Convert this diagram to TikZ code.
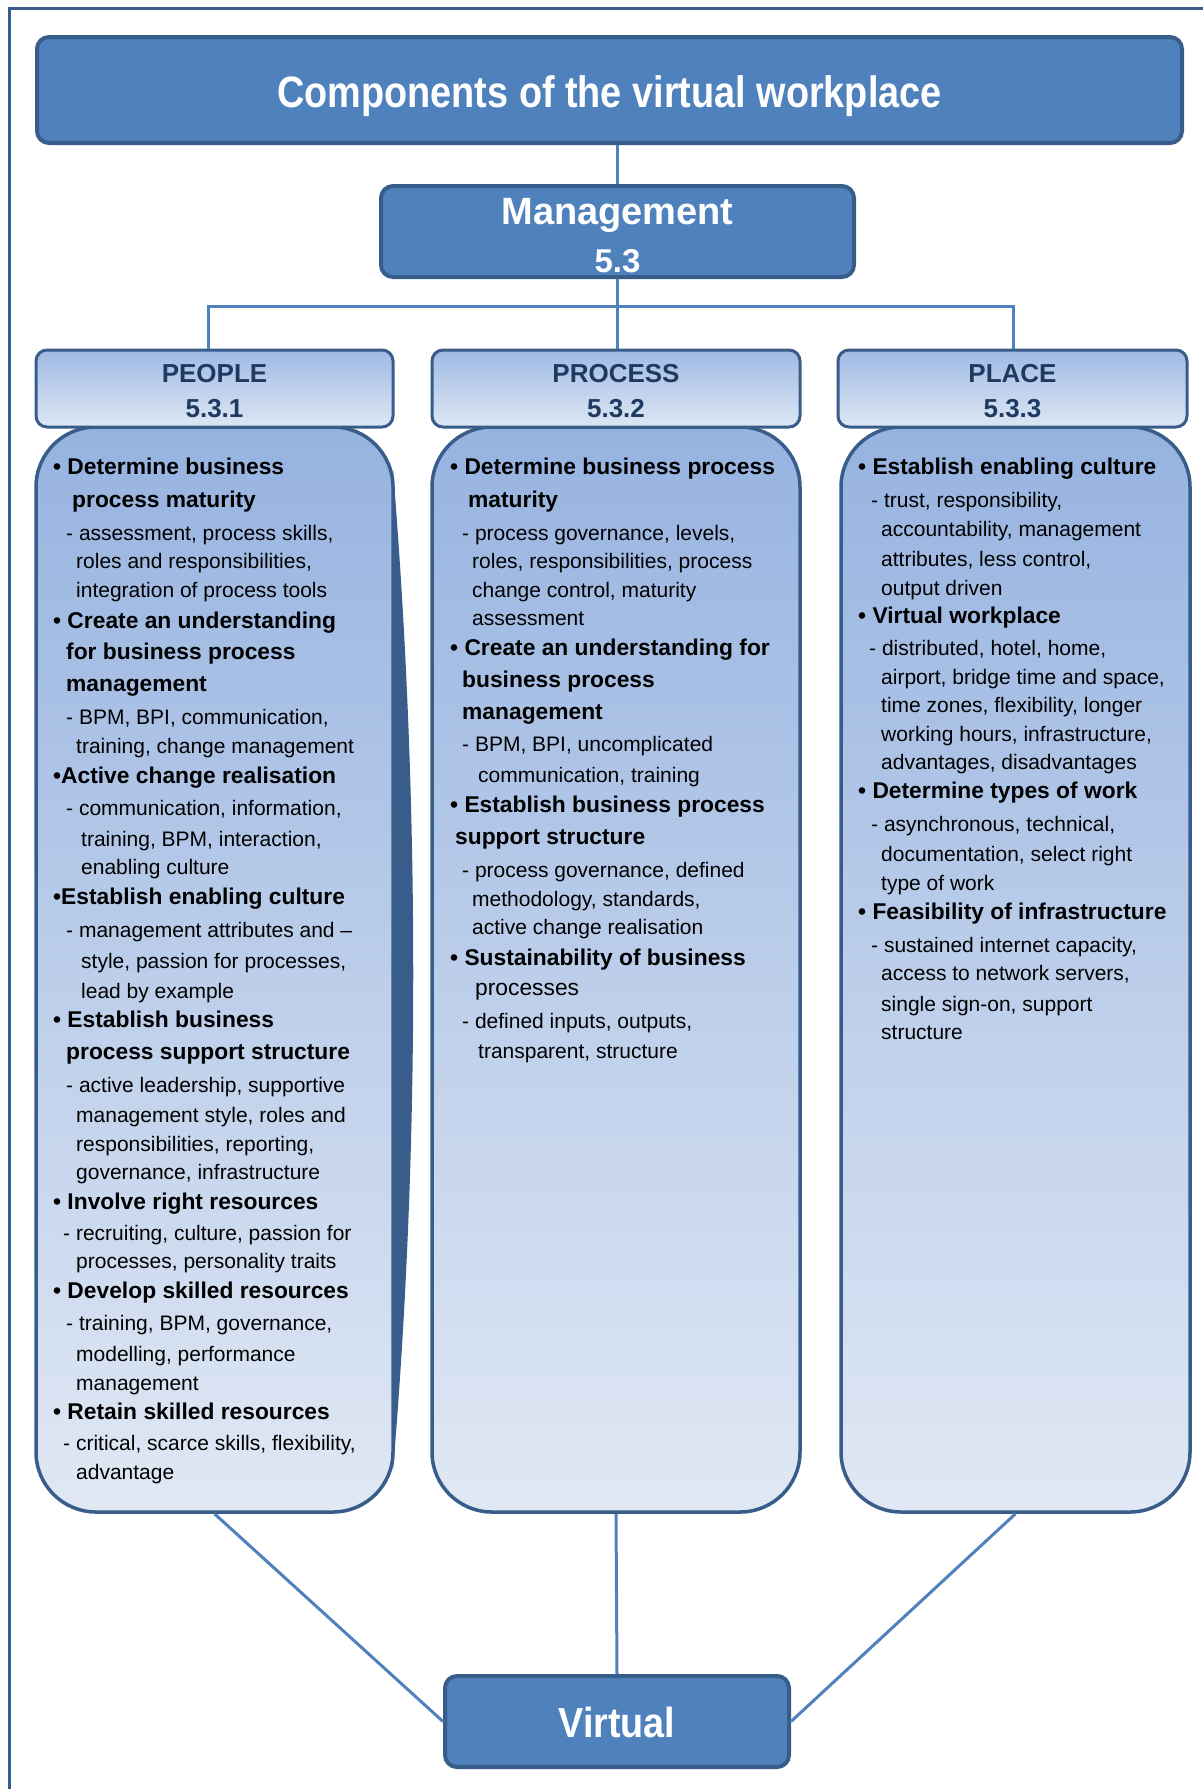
\documentclass[tikz,border=0pt]{standalone}
\usepackage{graphicx}
\usepackage{fontspec}
\setmainfont{Liberation Sans}
\definecolor{dk}{RGB}{56,93,138}
\definecolor{md}{RGB}{79,129,189}
\definecolor{navy}{RGB}{31,58,96}
\definecolor{hdtop}{RGB}{160,186,228}
\definecolor{hdbot}{RGB}{221,231,244}
\definecolor{bdtop}{RGB}{150,179,224}
\definecolor{bdbot}{RGB}{224,232,244}
\newcommand\HL[4]{\node[hd] (#1) at (#2,#3) {#4};}
\newcommand\RL[4]{\node[sb] (#1) at (#2,#3) {#4};}
\begin{document}
\begin{tikzpicture}[x=1pt,y=-1pt,
  hd/.style={anchor=base west,inner sep=0pt,font=\bfseries\fontsize{22.8}{27}\selectfont},
  sb/.style={anchor=base west,inner sep=0pt,font=\fontsize{21}{25}\selectfont},
  bluebox/.style={draw=dk,fill=md,line width=4pt,rounded corners=12pt,inner sep=0pt},
  whitetxt/.style={anchor=base,inner sep=0pt,text=white,font=\bfseries},
  headbox/.style={draw=dk,line width=3pt,rounded corners=11pt,top color=hdtop,bottom color=hdbot,minimum height=77pt,inner sep=0pt},
  headtxt/.style={anchor=base,inner sep=0pt,text=navy,font=\bfseries\fontsize{26}{30}\selectfont},
  bodybox/.style={draw=dk,line width=3.5pt,rounded corners=60pt,top color=bdtop,bottom color=bdbot,minimum height=1085pt,inner sep=0pt},
  conn/.style={draw=md,line width=3pt},
  frame/.style={draw=dk,line width=3pt}]
\useasboundingbox (0,0) rectangle (1203,1789);
\draw[frame] (9,1789) -- (9,8) -- (1203,8);

% top boxes
\node[bluebox,minimum width=1145pt,minimum height=106pt] (title) at (609.5,90) {};
\node[whitetxt,font=\bfseries\fontsize{44}{50}\selectfont] (titletxt) at (609.5,107) {\scalebox{0.86}[1]{Components of the virtual workplace}};
\node[bluebox,minimum width=473pt,minimum height=91pt] (mgmt) at (617.5,231.5) {};
\node[whitetxt,font=\bfseries\fontsize{38}{44}\selectfont] (mgmttxt) at (617.5,224) {Management};
\node[whitetxt,font=\bfseries\fontsize{33}{38}\selectfont] (mgmtnum) at (617.5,272) {5.3};

% connectors top
\coordinate (barL) at (208,306);
\coordinate (barR) at (1013,306);
\draw[conn] (mgmt.north) -- (mgmt.north |- title.south);

% bodies
\node[bodybox,minimum width=357pt] (bPeople) at (214.5,969.5) {};
\fill[dk] (393,470) .. controls (420,800) and (420,1150) .. (393,1470) -- cycle;
\node[bodybox,minimum width=368pt] (bProcess) at (616,969.5) {};
\node[bodybox,minimum width=349pt] (bPlace) at (1015.5,969.5) {};

% headers
\node[headbox,minimum width=357pt] (hPeople) at (214.5,388.5) {};
\node[headbox,minimum width=368pt] (hProcess) at (616,388.5) {};
\node[headbox,minimum width=349pt] (hPlace) at (1012.5,388.5) {};
\node[headtxt] (tPeople) at (214.5,382) {PEOPLE};
\node[headtxt] (nPeople) at (214.5,417) {5.3.1};
\node[headtxt] (tProcess) at (616,382) {PROCESS};
\node[headtxt] (nProcess) at (616,417) {5.3.2};
\node[headtxt] (tPlace) at (1012.5,382) {PLACE};
\node[headtxt] (nPlace) at (1012.5,417) {5.3.3};

\draw[conn] (barL |- hPeople.north) -- (barL) -- (barR) -- (barR |- hPlace.north);
\draw[conn] (mgmt.south) -- (mgmt.south |- hProcess.north);

% virtual
\node[bluebox,minimum width=344pt,minimum height=91pt] (virt) at (617,1721.5) {};
\node[whitetxt,font=\bfseries\fontsize{42}{48}\selectfont] (virttxt) at (617,1737) {\scalebox{0.9}[1]{Virtual}};
\draw[conn] (bPeople.south) -- (virt.west);
\draw[conn] (bProcess.south) -- (virt.north);
\draw[conn] (bPlace.south) -- (virt.east);

% PEOPLE text
\HL{p1}{53}{474}{• Determine business}
\HL{p2}{72}{507}{process maturity}
\RL{p3}{66}{540}{- assessment, process skills,}
\RL{p4}{76}{568}{roles and responsibilities,}
\RL{p5}{76}{597}{integration of process tools}
\HL{p6}{53}{628}{• Create an understanding}
\HL{p7}{66}{659}{for business process}
\HL{p8}{66}{691}{management}
\RL{p9}{66}{724}{- BPM, BPI, communication,}
\RL{p10}{76}{753}{training, change management}
\HL{p11}{53}{783}{•Active change realisation}
\RL{p12}{66}{815}{- communication, information,}
\RL{p13}{81}{846}{training, BPM, interaction,}
\RL{p14}{81}{874}{enabling culture}
\HL{p15}{53}{904}{•Establish enabling culture}
\RL{p16}{66}{937}{- management attributes and –}
\RL{p17}{81}{968}{style, passion for processes,}
\RL{p18}{81}{998}{lead by example}
\HL{p19}{53}{1027}{• Establish business}
\HL{p20}{66}{1059}{process support structure}
\RL{p21}{66}{1092}{- active leadership, supportive}
\RL{p22}{76}{1122}{management style, roles and}
\RL{p23}{76}{1151}{responsibilities, reporting,}
\RL{p24}{76}{1179}{governance, infrastructure}
\HL{p25}{53}{1209}{• Involve right resources}
\RL{p26}{63}{1240}{- recruiting, culture, passion for}
\RL{p27}{76}{1268}{processes, personality traits}
\HL{p28}{53}{1298}{• Develop skilled resources}
\RL{p29}{66}{1330}{- training, BPM, governance,}
\RL{p30}{76}{1361}{modelling, performance}
\RL{p31}{76}{1390}{management}
\HL{p32}{53}{1419}{• Retain skilled resources}
\RL{p33}{63}{1450}{- critical, scarce skills, flexibility,}
\RL{p34}{76}{1479}{advantage}

% PROCESS text
\HL{q1}{450}{474}{• Determine business process}
\HL{q2}{468}{507}{maturity}
\RL{q3}{462}{540}{- process governance, levels,}
\RL{q4}{472}{568}{roles, responsibilities, process}
\RL{q5}{472}{597}{change control, maturity}
\RL{q6}{472}{625}{assessment}
\HL{q7}{450}{655}{• Create an understanding for}
\HL{q8}{462}{687}{business process}
\HL{q9}{462}{719}{management}
\RL{q10}{462}{751}{- BPM, BPI, uncomplicated}
\RL{q11}{478}{782}{communication, training}
\HL{q12}{450}{812}{• Establish business process}
\HL{q13}{455}{844}{support structure}
\RL{q14}{462}{877}{- process governance, defined}
\RL{q15}{472}{906}{methodology, standards,}
\RL{q16}{472}{934}{active change realisation}
\HL{q17}{450}{965}{• Sustainability of business}
\node[anchor=base west,inner sep=0pt,font=\fontsize{22.8}{27}\selectfont] (q18) at (475,995) {processes};
\RL{q19}{462}{1028}{- defined inputs, outputs,}
\RL{q20}{478}{1058}{transparent, structure}

% PLACE text
\HL{r1}{858}{474}{• Establish enabling culture}
\RL{r2}{871}{507}{- trust, responsibility,}
\RL{r3}{881}{536}{accountability, management}
\RL{r4}{881}{566}{attributes, less control,}
\RL{r5}{881}{595}{output driven}
\HL{r6}{858}{623}{• Virtual workplace}
\RL{r7}{869}{655}{- distributed, hotel, home,}
\RL{r8}{881}{684}{airport, bridge time and space,}
\RL{r9}{881}{712}{time zones, flexibility, longer}
\RL{r10}{881}{741}{working hours, infrastructure,}
\RL{r11}{881}{769}{advantages, disadvantages}
\HL{r12}{858}{798}{• Determine types of work}
\RL{r13}{871}{831}{- asynchronous, technical,}
\RL{r14}{881}{861}{documentation, select right}
\RL{r15}{881}{890}{type of work}
\HL{r16}{858}{919}{• Feasibility of infrastructure}
\RL{r17}{871}{952}{- sustained internet capacity,}
\RL{r18}{881}{980}{access to network servers,}
\RL{r19}{881}{1011}{single sign-on, support}
\RL{r20}{881}{1039}{structure}
\end{tikzpicture}
\end{document}
